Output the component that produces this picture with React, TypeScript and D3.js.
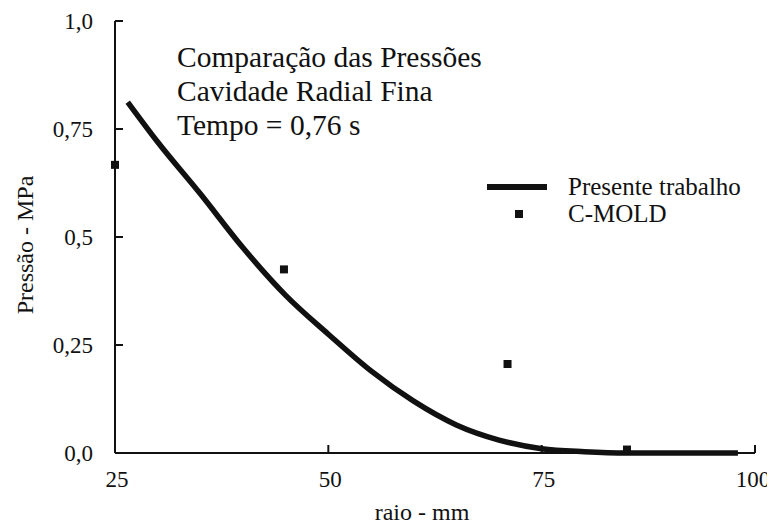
import React, { useEffect, useRef } from 'react';
import * as d3 from 'd3';

// curva "Presente trabalho" (raio em mm, pressão em MPa)
const raio = [26.5, 30, 35, 40, 45, 50, 55, 60, 65, 70, 75, 80, 85, 90, 95, 98];
const pressao = [0.812, 0.72, 0.6, 0.475, 0.365, 0.275, 0.19, 0.12, 0.065, 0.03, 0.01, 0.003, 0.0, 0.0, 0.0, 0.0];

// pontos C-MOLD
const cmoldRaio = [25, 44.8, 71, 85];
const cmoldPressao = [0.667, 0.425, 0.206, 0.008];

const xTicks = [25, 50, 75, 100];
const yTicks = [0, 0.25, 0.5, 0.75, 1.0];
const yTickLabels = ['0,0', '0,25', '0,5', '0,75', '1,0'];

const titleLines = ['Comparação das Pressões', 'Cavidade Radial Fina', 'Tempo = 0,76 s'];

const W = 775;
const H = 530;
const font = 'Liberation Serif, Times New Roman, Times, serif';

const App: React.FC = () => {
  const svgRef = useRef<SVGSVGElement>(null);

  useEffect(() => {
    if (!svgRef.current) return;
    const svg = d3.select(svgRef.current);
    svg.selectAll('*').remove();

    const x = d3.scaleLinear().domain([25, 100]).range([115, 755]);
    const y = d3.scaleLinear().domain([0, 1]).range([453, 21]);

    // eixos
    const ax = svg.append('g').attr('stroke', '#111').attr('stroke-width', 2);
    ax.append('line').attr('x1', x(25)).attr('x2', x(25)).attr('y1', y(1)).attr('y2', y(0));
    ax.append('line').attr('x1', x(25)).attr('x2', x(100)).attr('y1', y(0)).attr('y2', y(0));

    ax.selectAll('.xt').data(xTicks).enter().append('line')
      .attr('x1', d => x(d)).attr('x2', d => x(d))
      .attr('y1', y(0)).attr('y2', y(0) - 8);
    ax.selectAll('.yt').data(yTicks).enter().append('line')
      .attr('x1', x(25)).attr('x2', x(25) + 8)
      .attr('y1', d => y(d)).attr('y2', d => y(d));

    svg.selectAll('.xl').data(xTicks).enter().append('text')
      .attr('x', d => Math.min(x(d) + 2, 753)).attr('y', 487)
      .attr('text-anchor', 'middle')
      .attr('font-size', 23)
      .text(d => String(d));

    svg.selectAll('.yl').data(yTicks).enter().append('text')
      .attr('x', 93).attr('y', d => y(d) + 8)
      .attr('text-anchor', 'end')
      .attr('font-size', 23)
      .text((d, i) => yTickLabels[i]);

    svg.append('text')
      .attr('x', 422).attr('y', 520)
      .attr('text-anchor', 'middle')
      .attr('font-size', 24)
      .text('raio - mm');

    svg.append('text')
      .attr('transform', `translate(33,${(y(0) + y(1)) / 2 + 8}) rotate(-90)`)
      .attr('text-anchor', 'middle')
      .attr('font-size', 24)
      .text('Pressão - MPa');

    // título
    svg.selectAll('.tt').data(titleLines).enter().append('text')
      .attr('x', 177).attr('y', (d, i) => 67 + i * 34)
      .attr('font-size', 29.5)
      .text(d => d);

    // curva
    const pts: [number, number][] = raio.map((r, i) => [r, pressao[i]]);
    const line = d3.line<[number, number]>()
      .x(d => x(d[0])).y(d => y(d[1]))
      .curve(d3.curveMonotoneX);
    svg.append('path')
      .attr('d', line(pts) as string)
      .attr('fill', 'none').attr('stroke', '#111').attr('stroke-width', 5.5);

    // C-MOLD
    svg.selectAll('.sq').data(cmoldRaio).enter().append('rect')
      .attr('x', d => x(d) - 4).attr('y', (d, i) => y(cmoldPressao[i]) - 4)
      .attr('width', 8).attr('height', 8).attr('fill', '#111');

    // legenda
    const lg = svg.append('g').attr('font-size', 25);
    lg.append('line').attr('x1', 487).attr('x2', 547).attr('y1', 187).attr('y2', 187)
      .attr('stroke', '#111').attr('stroke-width', 6);
    lg.append('text').attr('x', 568).attr('y', 195).text('Presente trabalho');
    lg.append('rect').attr('x', 515).attr('y', 210).attr('width', 8).attr('height', 8).attr('fill', '#111');
    lg.append('text').attr('x', 568).attr('y', 222).text('C-MOLD');
  }, []);

  return (
    <div style={{ margin: -8 }}>
      <svg ref={svgRef} width={W} height={H}
        style={{ display: 'block', background: '#fff', fontFamily: font, fill: '#111' }} />
    </div>
  );
};

export default App;
